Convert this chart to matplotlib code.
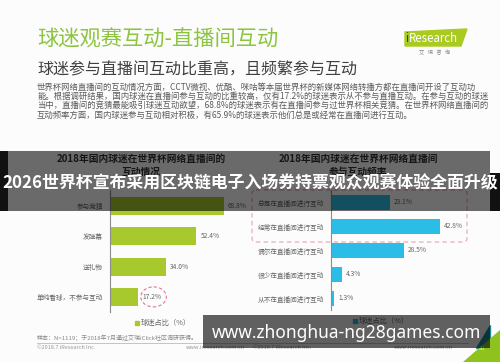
import matplotlib
matplotlib.use("Agg")
import matplotlib.pyplot as plt
from matplotlib.patches import Rectangle, Polygon, Ellipse, FancyBboxPatch

plt.rcParams["font.family"] = ["Noto Sans CJK SC", "DejaVu Sans"]

W, H = 500, 362

title = "球迷观赛互动-直播间互动"
subtitle = "球迷参与直播间互动比重高，且频繁参与互动"
body_lines = [
    "世界杯网络直播间的互动情况方面，CCTV微视、优酷、咪咕等本届世界杯的新媒体网络转播方都在直播间开设了互动功",
    "能。根据调研结果，国内球迷在直播间参与互动的比重较高，仅有17.2%的球迷表示从不参与直播互动。在参与互动的球迷",
    "当中，直播间的竞猜最能吸引球迷互动欲望，68.8%的球迷表示有在直播间参与过世界杯相关竞猜。在世界杯网络直播间的",
    "互动频率方面，国内球迷参与互动相对积极，有65.9%的球迷表示他们总是或经常在直播间进行互动。",
]
banner = "2026世界杯宣布采用区块链电子入场券持票观众观赛体验全面升级"
site = "www.zhonghua-ng28games.com"

left_title = ["2018年国内球迷在世界杯网络直播间的", "互动情况"]
left_cats = ["参与竞猜", "发弹幕", "送礼物", "单纯看球，不参与互动"]
left_vals = [68.8, 52.4, 34.0, 17.2]

right_title = ["2018年国内球迷在世界杯网络直播间", "参与互动频率"]
right_cats = ["总是在直播间进行互动", "经常在直播间进行互动", "偶尔在直播间进行互动",
              "很少在直播间进行互动", "从不在直播间进行互动"]
right_vals = [23.1, 42.8, 28.5, 4.3, 1.3]

legend_label = "球迷占比（%）"
source_note = "样本：N=1119；于2018年7月通过艾瑞iClick社区调研获得。"
copyright_note = "©2018.7 iResearch Inc."
web_note = "www.iresearch.com.cn"

GREEN = "#a8c92d"
BLUE = "#2bbde6"
TXT = "#666666"


def px_axes(fig, x0, y0, x1, y1, **kw):
    return fig.add_axes([x0 / W, 1 - y1 / H, (x1 - x0) / W, (y1 - y0) / H], **kw)


def bar_panel(fig, box, cats, vals, color, xmax, ylim):
    ax = px_axes(fig, *box, zorder=2)
    ax.set_facecolor("none")
    pos = list(range(len(cats)))
    ax.barh(pos, vals, height=0.6, color=color)
    ax.set_xlim(0, xmax)
    ax.set_ylim(*ylim)
    ax.set_yticks(pos)
    ax.set_yticklabels(cats, fontsize=4.8, color=TXT)
    ax.set_xticks([])
    ax.tick_params(axis="y", length=0, pad=5)
    for s in ["top", "right", "bottom"]:
        ax.spines[s].set_visible(False)
    ax.spines["left"].set_color("#8c8c8c")
    ax.spines["left"].set_linewidth(0.8)
    for p, v in zip(pos, vals):
        ax.annotate(f"{v:.1f}%", (v, p), xytext=(3, 0), textcoords="offset points",
                    va="center", ha="left", fontsize=4.8, color=TXT)
    return ax


fig = plt.figure(figsize=(5, 3.62), dpi=100, facecolor="#fcfcfc")
bg = fig.add_axes([0, 0, 1, 1], zorder=0)
bg.set_xlim(0, W)
bg.set_ylim(H, 0)
bg.axis("off")

# header
bg.text(37, 40, title, fontsize=15.3, color="#8cc43f", va="center")
bg.text(37, 70, subtitle, fontsize=11.5, color="#404040", va="center")
for i, line in enumerate(body_lines):
    bg.text(37, 87 + i * 9.3, line, fontsize=6, color="#5a5a5a", va="center")

# logo
bg.add_patch(Polygon([(405, 32), (467, 29), (461, 46), (405, 46)], color="#a9cb1f"))
bg.text(405, 38.5, "i", fontsize=8.3, color="#1d3a6e", va="center")
bg.text(409, 38.5, "Research", fontsize=8.3, color="white", va="center")
bg.text(435, 52, "艾   瑞   咨   询", fontsize=3.8, color="#888888", va="center", ha="center")

# chart titles (second line sits under the banner, as in the source)
for k, line in enumerate(left_title):
    bg.text(141, 159 + 13 * k, line, fontsize=7, weight="bold", color="#333333",
            ha="center", va="center")
for k, line in enumerate(right_title):
    bg.text(358, 159 + 13 * k, line, fontsize=7, weight="bold", color="#333333",
            ha="center", va="center")

ax_l = bar_panel(fig, (110, 190, 250, 312), left_cats, left_vals, GREEN,
                 140 / 1.65, (3.5, -0.53))
ax_r = bar_panel(fig, (331, 190, 481, 310), right_cats, right_vals, BLUE,
                 150 / 2.55, (4.48, -0.52))

# dashed highlights
ax_l.add_patch(Ellipse((left_vals[-1] + 9.2, len(left_vals) - 1), 15.5, 0.66,
                       fill=False, ec="#e07a8e", lw=0.8, ls=(0, (3, 2)), clip_on=False))
bg.add_patch(FancyBboxPatch((252, 190), 215, 52, boxstyle="round,pad=0,rounding_size=4",
                            fill=False, ec="#e8a2b0", lw=0.8, ls=(0, (4, 3))))

# legends
bg.add_patch(Rectangle((135, 320.5), 4, 4, color=GREEN))
bg.text(141, 323, legend_label, fontsize=5.2, color=TXT, va="center")
bg.add_patch(Rectangle((353, 318.5), 4, 4, color=BLUE))
bg.text(359, 321, legend_label, fontsize=5.2, color=TXT, va="center")

# footers
bg.text(37, 338, source_note, fontsize=4.3, color="#888888", va="center")
bg.plot([37, 468], [342.5, 342.5], color="#bbbbbb", lw=0.6)
bg.text(37, 347.5, copyright_note, fontsize=4, color="#999999", va="center")
bg.text(245, 347.5, web_note, fontsize=4, color="#999999", va="center", ha="right")
bg.text(253, 347.5, copyright_note, fontsize=4, color="#999999", va="center")
bg.text(453, 347.5, web_note, fontsize=4, color="#999999", va="center", ha="right")

# corner decoration
bg.add_patch(Polygon([(476, 348), (490, 348), (490, 325)], color="#1f8a9a"))
bg.add_patch(Polygon([(463, 362), (500, 362), (500, 330)], color="#8dc21f"))
bg.text(482, 348, "30", fontsize=4, color="#e8f0d0", va="center", ha="center")

# overlays on top
top = fig.add_axes([0, 0, 1, 1], zorder=10)
top.set_facecolor("none")
top.set_xlim(0, W)
top.set_ylim(H, 0)
top.axis("off")
top.add_patch(Rectangle((8, 151), 482, 60, color="black", alpha=0.58, lw=0))
top.add_patch(Rectangle((0, 151), 8, 60, color="#111111", lw=0))
top.add_patch(Rectangle((490, 173), 10, 38, color="#111111", lw=0))
top.text(250, 182, banner, fontsize=12.2, weight="bold", color="white",
         ha="center", va="center")
top.add_patch(Rectangle((203, 315), 287, 33, color="black", alpha=0.62, lw=0))
top.text(347, 333, site, fontsize=12.5, weight="bold", color="white",
         family=["Noto Sans", "DejaVu Sans"], ha="center", va="center")

fig.savefig("out.png", dpi=100, facecolor=fig.get_facecolor())
